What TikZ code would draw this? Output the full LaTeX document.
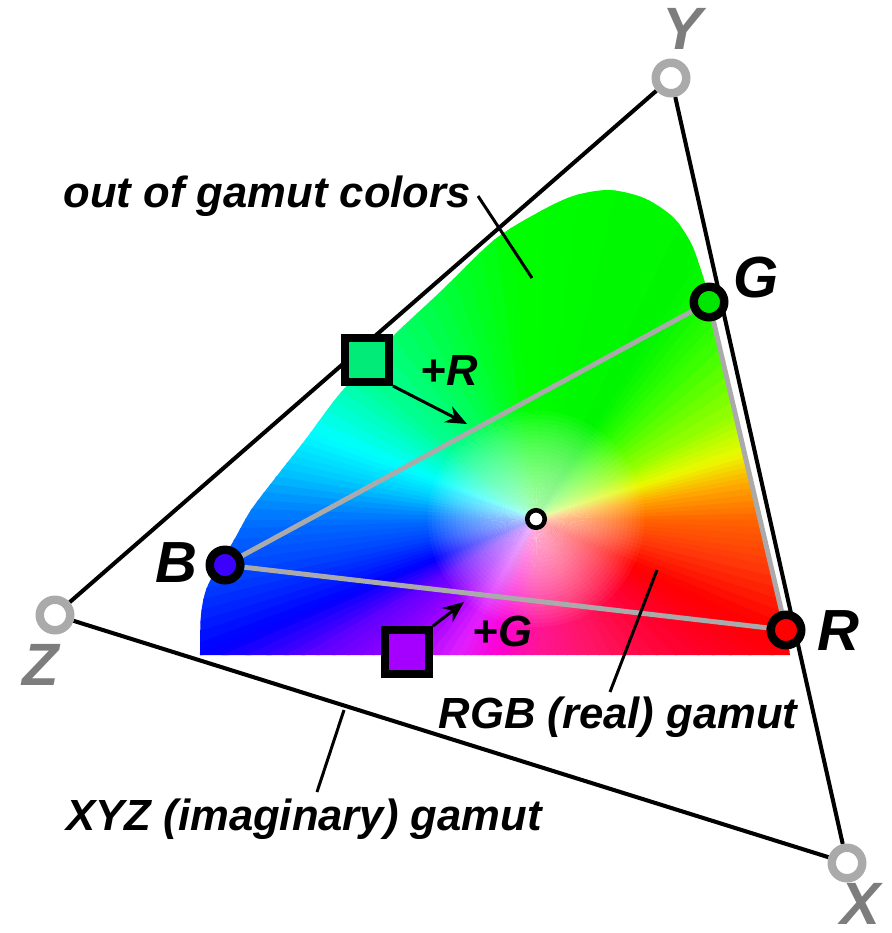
\documentclass[tikz,border=0pt]{standalone}
\usepackage{fontspec}
\setmainfont{Liberation Sans}
\usetikzlibrary{arrows.meta}
\pgfdeclarelayer{gam}
\pgfdeclarelayer{bg}
\pgfsetlayers{gam,bg,main}
\definecolor{ringgray}{RGB}{170,170,170}
\definecolor{vgray}{RGB}{125,125,125}
\definecolor{gfill}{RGB}{0,230,0}
\definecolor{rfill}{RGB}{255,0,0}
\definecolor{bfill}{RGB}{60,0,255}
\definecolor{sqg}{RGB}{0,235,120}
\definecolor{sqp}{RGB}{165,0,255}
% hue stops
\definecolor{h1}{RGB}{0,115,255}
\definecolor{h2}{RGB}{0,60,255}
\definecolor{h3}{RGB}{0,0,255}
\definecolor{h4}{RGB}{100,0,255}
\definecolor{h5}{RGB}{150,0,255}
\definecolor{h6}{RGB}{225,30,255}
\definecolor{h7}{RGB}{255,0,210}
\definecolor{h8}{RGB}{255,20,150}
\definecolor{h9}{RGB}{255,20,100}
\definecolor{h10}{RGB}{255,0,45}
\definecolor{h11}{RGB}{255,0,0}
\definecolor{h12}{RGB}{255,60,10}
\definecolor{h13}{RGB}{255,100,0}
\definecolor{h14}{RGB}{255,170,0}
\definecolor{h15}{RGB}{235,250,0}
\definecolor{h16}{RGB}{150,255,0}
\definecolor{h17}{RGB}{50,255,0}
\definecolor{h18}{RGB}{0,245,0}
\definecolor{h19}{RGB}{0,255,0}
\definecolor{h20}{RGB}{0,255,70}
\definecolor{h21}{RGB}{0,255,150}
\definecolor{h22}{RGB}{0,255,255}
\definecolor{h23}{RGB}{0,200,255}
\begin{document}
\begin{tikzpicture}[x=0.01cm,y=-0.01cm,
  vtx/.style={circle,draw=ringgray,fill=white,line width=2.4pt,minimum size=0.305cm,inner sep=0pt},
  prim/.style={circle,draw=black,line width=2.4pt,minimum size=0.305cm,inner sep=0pt},
  wp/.style={circle,draw=black,fill=white,line width=1.3pt,minimum size=0.175cm,inner sep=0pt},
  sqbox/.style={rectangle,draw=black,line width=2.4pt,minimum size=0.435cm,inner sep=0pt},
  tri/.style={draw=black,line width=1.15pt},
  gline/.style={draw=ringgray,line width=1.4pt},
  lead/.style={draw=black,line width=0.85pt},
  arr/.style={draw=black,line width=0.85pt,-{Stealth[length=6pt,width=5pt]}},
  lab/.style={inner sep=0pt,font=\fontsize{12.4}{14}\selectfont\bfseries\itshape},
  big/.style={inner sep=0pt,font=\fontsize{16.5}{18}\selectfont\bfseries\itshape},
  vlab/.style={inner sep=0pt,text=vgray,font=\fontsize{17}{19}\selectfont\bfseries\itshape}]
\useasboundingbox (0,0) rectangle (892,933);

% nodes
\node[vtx] (Y) at (671,78) {};
\node[vtx] (Z) at (55,615) {};
\node[vtx] (X) at (847,863) {};
\node[prim,fill=gfill] (G) at (709,302) {};
\node[prim,fill=rfill] (R) at (786,630) {};
\node[prim,fill=bfill] (B) at (225,565) {};
\node[wp] (W) at (536,519) {};
\node[sqbox,fill=sqg] (SR) at (367,360) {};
\node[sqbox,fill=sqp] (SG) at (407,652) {};

% labels
\node[vlab] (lY) at (682,29) {Y};
\node[vlab] (lZ) at (41,665) {Z};
\node[vlab] (lX) at (860,904) {X};
\node[big] (lG) at (756,278) {G};
\node[big] (lR) at (838,631) {R};
\node[big] (lB) at (176,563) {B};
\node[lab,anchor=base west] (oog) at (63,207) {out of gamut colors};
\node[lab,anchor=base west] (rgb) at (438,728) {RGB (real) gamut};
\node[lab,anchor=base west] (xyz) at (66,830) {XYZ (imaginary) gamut};
\node[lab,anchor=base west] (pR) at (420,385) {+R};
\node[lab,anchor=base west] (pG) at (472,646) {+G};

% leader and arrow ends
\coordinate (l1a) at (478,196);
\coordinate (l1b) at (532,278);
\coordinate (l2a) at (657,570);
\coordinate (l2b) at (610,692);
\coordinate (l3a) at (344,710);
\coordinate (l3b) at (317,792);
\coordinate (aR) at (467,424);
\coordinate (aG) at (464,602);

% gamut
\begin{pgfonlayer}{gam}
\begin{scope}
\clip (790,655) -- (200,655) -- plot[smooth] coordinates {(200,655)(201,615)(208,585)(234,540)(251,510)(276,477)(305,440)(337,397)(365,366)(394,335)(440,292)(494,240)(537,213)(573,196)(609,190)(644,198)(673,217)(691,243)(701,270)(711,302)} -- (786,630) -- (790,655) -- cycle;
\foreach \a/\b/\ca/\cb in {-180/-168/h1/h2,-168/-158/h2/h3,-158/-148/h3/h4,-148/-136/h4/h5,-136/-120/h5/h6,-120/-106/h6/h7,-106/-89/h7/h8,-89/-65/h8/h9,-65/-40/h9/h10,-40/-25/h10/h11,-25/-11/h11/h12,-11/0/h12/h13,0/10/h13/h14,10/18/h14/h15,18/28/h15/h16,28/46/h16/h17,46/58/h17/h18,58/95/h18/h19,95/116/h19/h20,116/141/h20/h21,141/159/h21/h22,159/169/h22/h23,169/180/h23/h1}{
  \foreach \k in {0,...,5}{
    \pgfmathsetmacro\p{100*(1-(\k+0.5)/6)}
    \pgfmathsetmacro\s{\a+(\b-\a)*\k/6-0.2}
    \pgfmathsetmacro\e{\a+(\b-\a)*(\k+1)/6+0.2}
    \fill[\ca!\p!\cb] (W.center) -- +(\s:7cm) -- +(\e:7cm) -- cycle;
  }
}
\foreach \r in {0.04,0.08,...,1.1}{
  \fill[white,opacity=0.045] (W.center) circle[radius=\r cm];
}
\end{scope}
\end{pgfonlayer}

% connectors
\begin{pgfonlayer}{bg}
\draw[tri] (Y) -- (Z);
\draw[tri] (Y) -- (X);
\draw[tri] (Z) -- (X);
\draw[gline] (B) -- (G);
\draw[gline] (B) -- (R);
\draw[gline] (G) -- (R);
\draw[lead] (l1a) -- (l1b);
\draw[lead] (l2a) -- (l2b);
\draw[lead] (l3a) -- (l3b);
\end{pgfonlayer}
\draw[arr] (SR.south east) -- (aR);
\draw[arr] (SG.north east) -- (aG);
\end{tikzpicture}
\end{document}
